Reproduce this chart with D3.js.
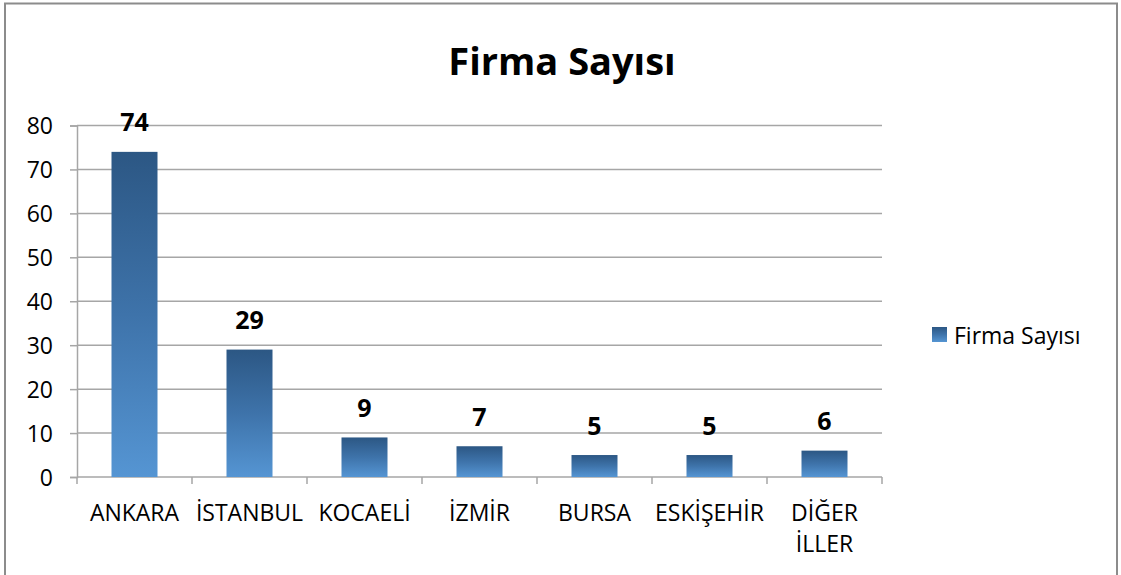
<!DOCTYPE html>
<html>
<head>
<meta charset="utf-8">
<script src="https://cdn.jsdelivr.net/npm/d3@7/dist/d3.min.js"></script>
<style>
  html, body { margin: 0; padding: 0; background: #fff; }
  svg { display: block; }
  text { font-family: "Open Sans", "Noto Sans", sans-serif; fill: #000; }
</style>
</head>
<body>
<svg id="chart" width="1121" height="575"></svg>
<script>
// Number of firms per city
const categories = ["ANKARA", "İSTANBUL", "KOCAELİ", "İZMİR", "BURSA", "ESKİŞEHİR", "DİĞER\nİLLER"];
const values = [74, 29, 9, 7, 5, 5, 6];
const yTicks = [0, 10, 20, 30, 40, 50, 60, 70, 80];
const seriesName = "Firma Sayısı";
const titleText = "Firma Sayısı";

const svg = d3.select("#chart");

// Plot area
const plot = { left: 77, right: 882, top: 125.5, bottom: 477 };
const gridColor = "#a6a6a6";

// Chart frame
svg.append("rect")
  .attr("x", 5).attr("y", 3.5)
  .attr("width", 1112).attr("height", 600)
  .attr("fill", "#fff")
  .attr("stroke", "#8c8c8c")
  .attr("stroke-width", 2);

// Bar gradient: darker at the top, lighter at the base
const defs = svg.append("defs");
const grad = defs.append("linearGradient")
  .attr("id", "barGrad")
  .attr("x1", 0).attr("y1", 0).attr("x2", 0).attr("y2", 1);
grad.append("stop").attr("offset", "0%").attr("stop-color", "#2c5784");
grad.append("stop").attr("offset", "50%").attr("stop-color", "#3e73aa");
grad.append("stop").attr("offset", "100%").attr("stop-color", "#5595d3");

const x = d3.scaleBand()
  .domain(categories)
  .range([plot.left, plot.right])
  .paddingInner(0.6)
  .paddingOuter(0.3);

const y = d3.scaleLinear()
  .domain([0, 80])
  .range([plot.bottom, plot.top]);

// Horizontal gridlines
svg.append("g")
  .selectAll("line")
  .data(yTicks.filter(d => d > 0))
  .join("line")
  .attr("x1", plot.left).attr("x2", plot.right)
  .attr("y1", d => y(d)).attr("y2", d => y(d))
  .attr("stroke", gridColor)
  .attr("stroke-width", 1.5);

// Y axis
const yAxis = d3.axisLeft(y)
  .tickValues(yTicks)
  .tickSize(7)
  .tickPadding(17);
const gy = svg.append("g")
  .attr("transform", `translate(${plot.left},0)`)
  .call(yAxis);
gy.select(".domain").attr("stroke", gridColor).attr("stroke-width", 1.5);
gy.selectAll(".tick line").attr("stroke", gridColor).attr("stroke-width", 1.5);
gy.selectAll(".tick text")
  .style("font-size", "23px")
  .attr("dy", "0.36em");

// X axis (category boundaries carry the tick marks)
const step = (plot.right - plot.left) / categories.length;
const boundaries = d3.range(categories.length + 1).map(i => plot.left + i * step);
svg.append("line")
  .attr("x1", plot.left).attr("x2", plot.right)
  .attr("y1", plot.bottom).attr("y2", plot.bottom)
  .attr("stroke", gridColor).attr("stroke-width", 1.5);
svg.append("g")
  .selectAll("line")
  .data(boundaries)
  .join("line")
  .attr("x1", d => d).attr("x2", d => d)
  .attr("y1", plot.bottom).attr("y2", plot.bottom + 7)
  .attr("stroke", gridColor).attr("stroke-width", 1.5);

// Category labels
const xl = svg.append("g")
  .selectAll("text")
  .data(categories)
  .join("text")
  .attr("text-anchor", "middle")
  .style("font-size", "23px")
  .attr("x", d => x(d) + x.bandwidth() / 2)
  .attr("y", 521);
xl.each(function(d) {
  const lines = d.split("\n");
  d3.select(this).selectAll("tspan")
    .data(lines)
    .join("tspan")
    .attr("x", x(d) + x.bandwidth() / 2)
    .attr("dy", (l, i) => i === 0 ? 0 : 31)
    .text(l => l);
});

// Bars
svg.append("g")
  .selectAll("rect")
  .data(values)
  .join("rect")
  .attr("x", (d, i) => x(categories[i]))
  .attr("width", x.bandwidth())
  .attr("y", d => y(d))
  .attr("height", d => y(0) - y(d))
  .attr("fill", "url(#barGrad)");

// Value labels
svg.append("g")
  .selectAll("text")
  .data(values)
  .join("text")
  .attr("text-anchor", "middle")
  .style("font-size", "25px")
  .style("font-weight", "bold")
  .attr("x", (d, i) => x(categories[i]) + x.bandwidth() / 2)
  .attr("y", d => y(d) - 20.5)
  .text(d => d);

// Title
svg.append("text")
  .attr("x", 562)
  .attr("y", 75)
  .attr("text-anchor", "middle")
  .style("font-size", "38px")
  .style("font-weight", "bold")
  .text(titleText);

// Legend
const lg = svg.append("g").attr("transform", "translate(932,327)");
lg.append("rect")
  .attr("width", 15).attr("height", 15)
  .attr("fill", "url(#barGrad)");
lg.append("text")
  .attr("x", 22).attr("y", 17)
  .style("font-size", "23px")
  .text(seriesName);
</script>
</body>
</html>
